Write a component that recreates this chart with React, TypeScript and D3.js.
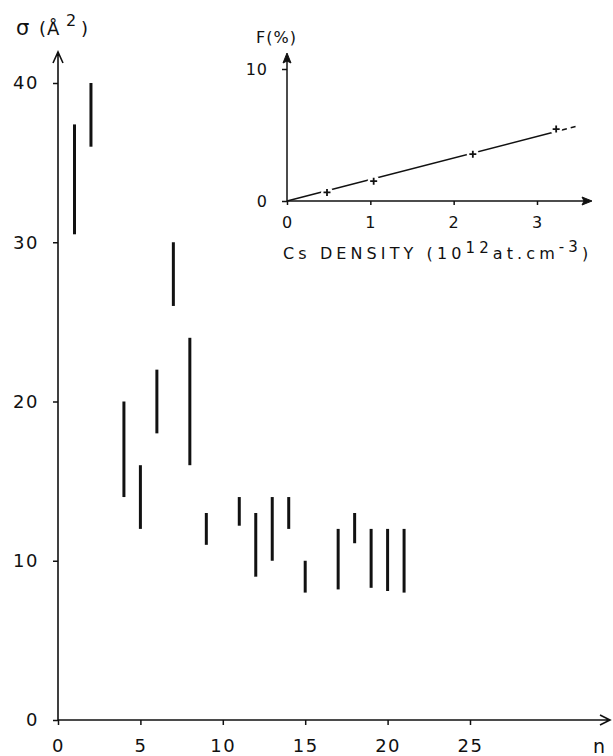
import React, { useEffect, useRef } from "react";
import * as d3 from "d3";

// main plot: cross section ranges for each level n
const levels = [1, 2, 4, 5, 6, 7, 8, 9, 11, 12, 13, 14, 15, 17, 18, 19, 20, 21];
const sigmaMin = [30.5, 36, 14, 12, 18, 26, 16, 11, 12.2, 9, 10, 12, 8, 8.2, 11.1, 8.3, 8.1, 8];
const sigmaMax = [37.4, 40, 20, 16, 22, 30, 24, 13, 14, 13, 14, 14, 10, 12, 13, 12, 12, 12];
const nTicks = [0, 5, 10, 15, 20, 25];
const sigmaTicks = [0, 10, 20, 30, 40];

// inset: F(%) vs Cs density
const density = [0.48, 1.04, 2.23, 3.23];
const fraction = [0.65, 1.5, 3.55, 5.45];
const densityTicks = [0, 1, 2, 3];
const fractionTicks = [0, 10];
const fitSlope = 1.63;
const fitSolidEnd = 3.3;
const fitEnd = 3.47;

const W = 613;
const H = 756;
const FONT = "'DejaVu Sans', 'Liberation Sans', sans-serif";
const INK = "#111";

export default function App() {
  const svgRef = useRef<SVGSVGElement>(null);

  useEffect(() => {
    const svg = d3.select(svgRef.current);
    svg.selectAll("*").remove();
    const g = svg.append("g").attr("font-family", FONT).attr("fill", INK);

    //main scales
    const x = d3.scaleLinear().domain([0, 25]).range([58, 470]);
    const y = d3.scaleLinear().domain([0, 40]).range([720, 83]);

    //main axes with open arrow heads
    g.append("path")
      .attr("d", `M${x(0)},${y(0)}H610M600,${y(0) - 5}L610,${y(0)}L600,${y(0) + 5}`)
      .attr("fill", "none").attr("stroke", INK).attr("stroke-width", 1.6);
    g.append("path")
      .attr("d", `M${x(0)},${y(0)}V52M${x(0) - 5},63L${x(0)},52L${x(0) + 5},63`)
      .attr("fill", "none").attr("stroke", INK).attr("stroke-width", 1.6);

    const xAxis = g.append("g")
      .attr("transform", `translate(0,${y(0)})`)
      .call(d3.axisBottom(x).tickValues(nTicks).tickSize(5).tickPadding(14).tickFormat(d3.format("d")));
    const yAxis = g.append("g")
      .attr("transform", `translate(${x(0)},0)`)
      .call(d3.axisLeft(y).tickValues(sigmaTicks).tickSize(5).tickPadding(14).tickFormat(d3.format("d")));
    [xAxis, yAxis].forEach(a => {
      a.select(".domain").remove();
      a.selectAll("line").attr("stroke", INK).attr("stroke-width", 1.5);
      a.selectAll("text")
        .attr("fill", INK)
        .style("font-family", FONT)
        .style("font-size", "18px")
        .style("letter-spacing", "1.5px");
    });

    //range bars
    g.append("g").selectAll("line")
      .data(levels)
      .join("line")
      .attr("x1", d => x(d))
      .attr("x2", d => x(d))
      .attr("y1", (d, i) => y(sigmaMin[i]))
      .attr("y2", (d, i) => y(sigmaMax[i]))
      .attr("stroke", INK)
      .attr("stroke-width", 3);

    //main labels
    const lab = g.append("text").attr("y", 35).style("font-size", "18px");
    lab.append("tspan").attr("x", 16).style("font-size", "21px").text("σ");
    lab.append("tspan").attr("x", 39).text("(");
    lab.append("tspan").attr("x", 47).text("Å");
    lab.append("tspan").attr("x", 66).attr("dy", -9).style("font-size", "16px").text("2");
    lab.append("tspan").attr("x", 81).attr("dy", 9).text(")");
    g.append("text").attr("x", 593).attr("y", 753).style("font-size", "19px").text("n");

    //inset scales
    const ix = d3.scaleLinear().domain([0, 3]).range([287, 537]);
    const iy = d3.scaleLinear().domain([0, 10]).range([201, 69]);

    g.append("path")
      .attr("d", `M${ix(0)},${iy(0)}H588`)
      .attr("stroke", INK).attr("stroke-width", 1.5);
    g.append("path")
      .attr("d", `M592,${iy(0)}L582,${iy(0) - 4}L584,${iy(0)}L582,${iy(0) + 4}Z`)
      .attr("fill", INK).attr("stroke", INK).attr("stroke-width", 1);
    g.append("path")
      .attr("d", `M${ix(0)},${iy(0)}V57`)
      .attr("stroke", INK).attr("stroke-width", 1.5);
    g.append("path")
      .attr("d", `M${ix(0)},53L${ix(0) - 4},63L${ix(0)},61L${ix(0) + 4},63Z`)
      .attr("fill", INK).attr("stroke", INK).attr("stroke-width", 1);

    const ixAxis = g.append("g")
      .attr("transform", `translate(0,${iy(0)})`)
      .call(d3.axisBottom(ix).tickValues(densityTicks).tickSize(4).tickPadding(12).tickFormat(d3.format("d")));
    const iyAxis = g.append("g")
      .attr("transform", `translate(${ix(0)},0)`)
      .call(d3.axisLeft(iy).tickValues(fractionTicks).tickSize(5).tickPadding(14).tickFormat(d3.format("d")));
    [ixAxis, iyAxis].forEach(a => {
      a.select(".domain").remove();
      a.selectAll("line").attr("stroke", INK).attr("stroke-width", 1.5);
      a.selectAll("text")
        .attr("fill", INK)
        .style("font-family", FONT)
        .style("font-size", "16px")
        .style("letter-spacing", "1px");
    });

    //fit line, solid then dashed
    const fit = d3.line<number>().x(d => ix(d)).y(d => iy(d * fitSlope));
    g.append("path")
      .attr("d", fit([0, fitSolidEnd]))
      .attr("fill", "none").attr("stroke", INK).attr("stroke-width", 1.5);
    g.append("path")
      .attr("d", fit([fitSolidEnd, fitEnd]))
      .attr("fill", "none").attr("stroke", INK).attr("stroke-width", 1.5)
      .attr("stroke-dasharray", "5,4");

    //markers with a white gap around them
    const pts = density.map((d, i) => [ix(d), iy(fraction[i])]);
    g.append("g").selectAll("circle")
      .data(pts)
      .join("circle")
      .attr("cx", d => d[0]).attr("cy", d => d[1]).attr("r", 6)
      .attr("fill", "#fff");
    g.append("g").selectAll("path")
      .data(pts)
      .join("path")
      .attr("d", d => `M${d[0] - 3.5},${d[1]}H${d[0] + 3.5}M${d[0]},${d[1] - 3.5}V${d[1] + 3.5}`)
      .attr("stroke", INK).attr("stroke-width", 1.8);

    //inset labels
    g.append("text").attr("x", 256).attr("y", 43).style("font-size", "16px")
      .style("letter-spacing", "1px").text("F(%)");
    const xl = g.append("text").attr("x", 283).attr("y", 259)
      .style("font-size", "16px").style("letter-spacing", "4.1px");
    xl.append("tspan").text("Cs DENSITY (10");
    xl.append("tspan").attr("dy", -6).style("font-size", "15px").text("12");
    xl.append("tspan").attr("dy", 6).text("at.cm");
    xl.append("tspan").attr("dy", -7).style("font-size", "15px").text("-3");
    xl.append("tspan").attr("dy", 7).text(")");
  }, []);

  return (
    <svg
      ref={svgRef}
      width={W}
      height={H}
      style={{ position: "absolute", left: 0, top: 0, background: "#fff" }}
    />
  );
}
